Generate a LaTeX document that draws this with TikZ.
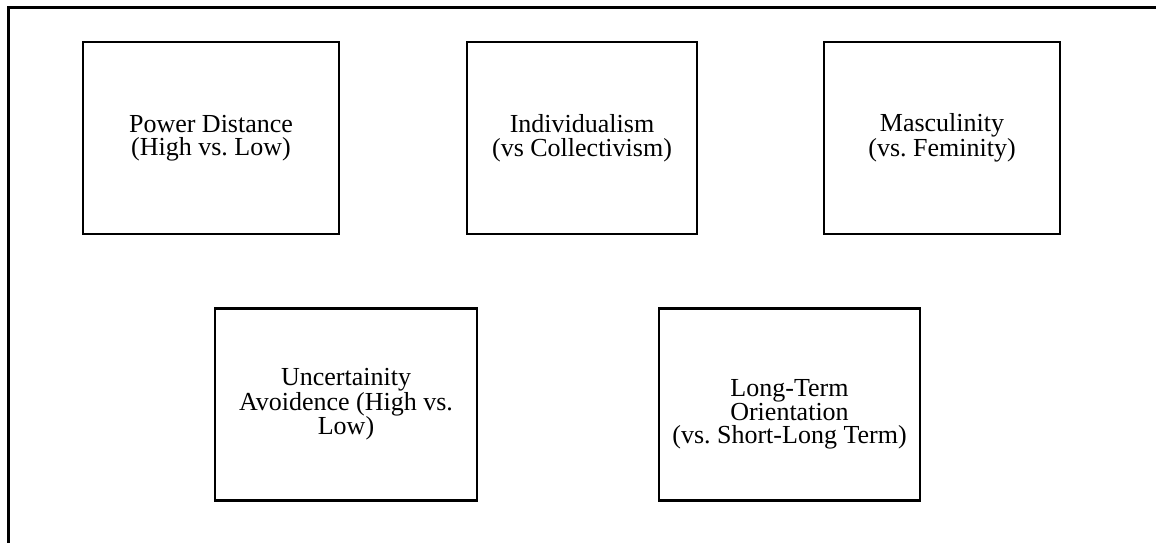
\documentclass[tikz,border=0pt]{standalone}
\usepackage{fontspec}
\setmainfont{Liberation Serif}
\frenchspacing
\begin{document}
\begin{tikzpicture}[x=1pt, y=1pt,
    font=\fontsize{26}{23.5}\selectfont,
    dimbox/.style={draw=black, line width=2.6pt, align=center, inner sep=0pt,
      minimum height=192pt}]
  \useasboundingbox (0,0) rectangle (1156,-543);
  % frame
  \draw[line width=3pt] (8.5,-543) -- (8.5,-8) -- (1156,-8);
  % top row
  \node[dimbox, minimum width=256pt] (pdist) at (211,-138) {Power Distance\\(High vs. Low)};
  \node[dimbox, minimum width=230pt] (indiv) at (582,-138) {Individualism\\(vs Collectivism)};
  \node[dimbox, minimum width=236pt] (masc) at (942,-138) {Masculinity\\(vs. Feminity)};
  % bottom row
  \node[dimbox, minimum width=262pt] (uncert) at (346,-404.5) {Uncertainity\\Avoidence (High vs.\\Low)};
  \node[dimbox, minimum width=261pt] (ltorient) at (789.5,-404.5) {};
  \node[align=center, inner sep=0pt] (lttext) at ([yshift=-10pt]ltorient.center) {Long-Term\\Orientation\\(vs. Short-Long Term)};
\end{tikzpicture}
\end{document}
